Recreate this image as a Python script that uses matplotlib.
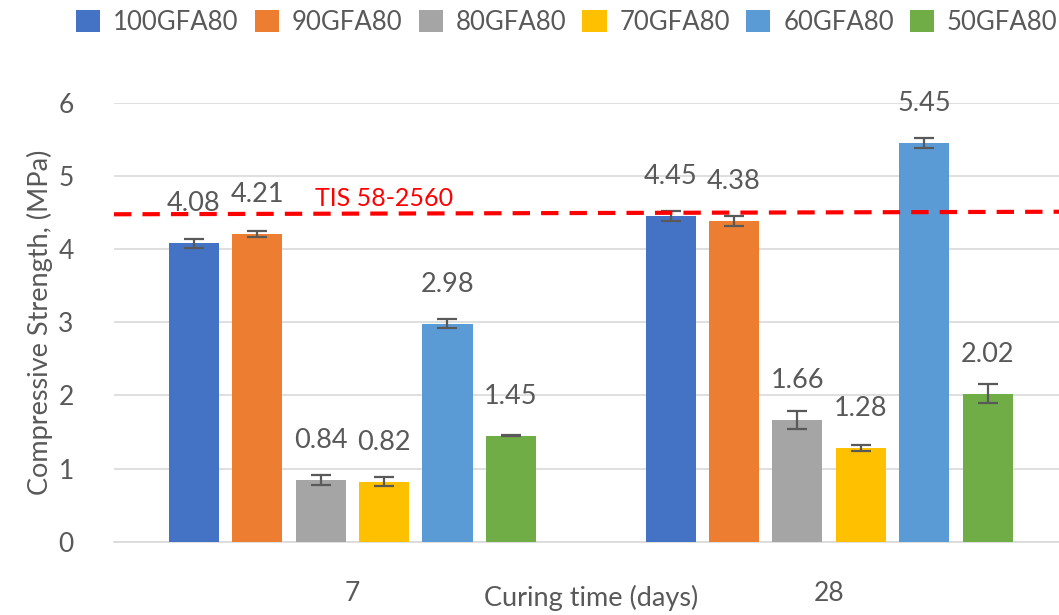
import matplotlib
matplotlib.use("Agg")
import matplotlib.pyplot as plt
import matplotlib.transforms as mtransforms
import numpy as np

# ---- data ----
categories = ["7", "28"]
series_names = ["100GFA80", "90GFA80", "80GFA80", "70GFA80", "60GFA80", "50GFA80"]
day7 = [4.08, 4.21, 0.84, 0.82, 2.98, 1.45]
day28 = [4.45, 4.38, 1.66, 1.28, 5.45, 2.02]
err7 = [0.06, 0.04, 0.07, 0.06, 0.06, 0.01]
err28 = [0.065, 0.07, 0.12, 0.04, 0.07, 0.13]
tis_level = [4.475, 4.51]   # hand-drawn standard line (left end, right end)
tis_label = "TIS 58-2560"
y_ticks = [0, 1, 2, 3, 4, 5, 6]

colors = ["#4472C4", "#ED7D31", "#A5A5A5", "#FFC000", "#5B9BD5", "#70AD47"]
text_color = "#595959"
grid_color = "#D9D9D9"

plt.rcParams["font.family"] = ["Lato", "DejaVu Sans"]
plt.rcParams["lines.scale_dashes"] = False

W, H = 1059, 615
fig = plt.figure(figsize=(W / 100, H / 100), dpi=100)
ax_left, ax_bottom = 114 / W, (H - 541.7) / H
ax_w, ax_h = 953.5 / W, 439.0 / H
ax = fig.add_axes([ax_left, ax_bottom, ax_w, ax_h])

x = np.arange(len(categories))
step = 0.133
width = 0.105
values = np.array([day7, day28]).T
errors = np.array([err7, err28]).T

handles = []
for i, name in enumerate(series_names):
    pos = x + (i - 2.5) * step
    b = ax.bar(pos, values[i], width, color=colors[i], label=name, zorder=3)
    handles.append(b)
    ax.errorbar(pos, values[i], yerr=errors[i], fmt="none", ecolor="#595959",
                elinewidth=1.6, capsize=7, capthick=1.6, zorder=4)
    for px, v in zip(pos, values[i]):
        ax.annotate(f"{v:.2f}", xy=(px, v), xytext=(0, 23), textcoords="offset points",
                    ha="center", va="baseline", fontsize=19.5, color=text_color, zorder=5)

# standard line
blend = mtransforms.blended_transform_factory(ax.transAxes, ax.transData)
ax.plot([0, 1], tis_level, transform=blend,
        color="#FF0000", lw=3.0, dashes=(12.5, 8.0), zorder=6, clip_on=False)
ax.text(-0.078, 4.59, tis_label, color="#FF0000", fontsize=18,
        ha="left", va="baseline", zorder=6)

ax.set_xlim(-0.5, 1.5)
ax.set_ylim(0, 6)
ax.set_yticks(y_ticks)
ax.set_xticks(x)
ax.set_xticklabels(categories)
ax.tick_params(axis="both", length=0, labelsize=19, labelcolor=text_color)
ax.tick_params(axis="y", pad=29)
ax.tick_params(axis="x", pad=28)
ax.yaxis.grid(True, color=grid_color, lw=1.2, zorder=0)
ax.set_axisbelow(True)
for s in ["top", "right", "left"]:
    ax.spines[s].set_visible(False)
ax.spines["bottom"].set_color(grid_color)
ax.spines["bottom"].set_linewidth(1.2)

ax.set_ylabel("Compressive Strength, (MPa)", fontsize=19.5, color=text_color, labelpad=4)
ax.set_xlabel("Curing time (days)", fontsize=19.5, color=text_color, labelpad=-15)

leg = fig.legend(handles=handles, labels=series_names, loc="upper left",
                 bbox_to_anchor=(76 / W, 1 - 10 / H), ncol=6, frameon=False,
                 fontsize=18.5, handlelength=0.95, handleheight=0.95, handletextpad=0.5,
                 columnspacing=0.62, borderaxespad=0, borderpad=0)
for t in leg.get_texts():
    t.set_color(text_color)

fig.savefig("out.png", dpi=100)
